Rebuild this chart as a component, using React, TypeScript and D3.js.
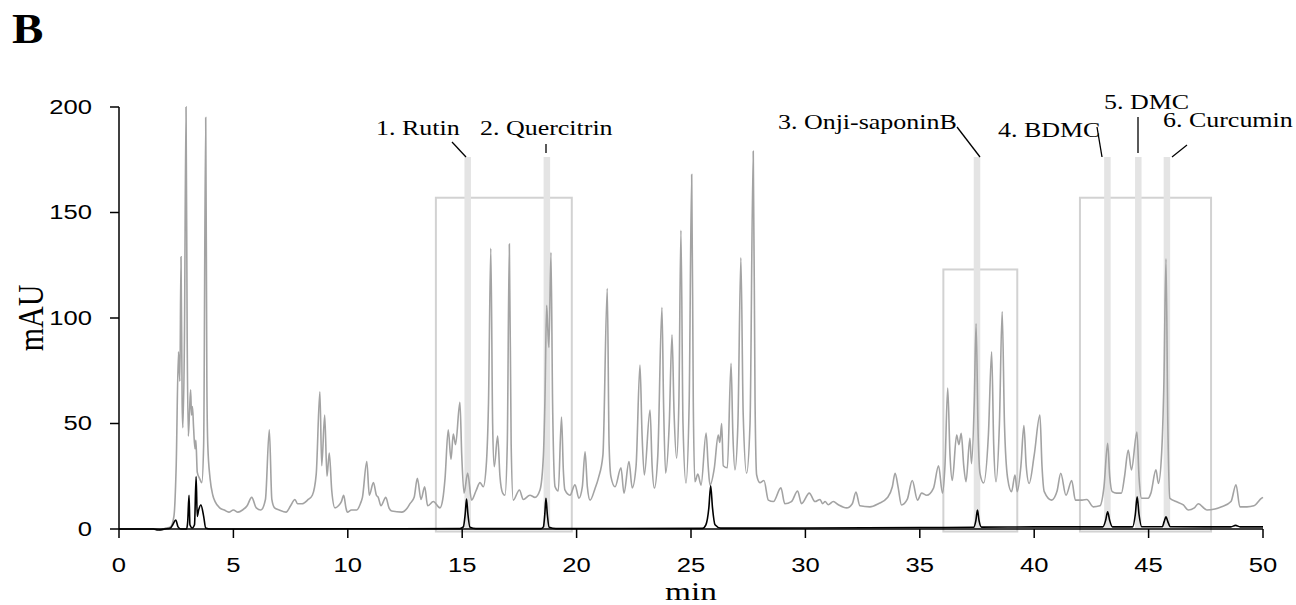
import React from "react";
import * as d3 from "d3";

// gray trace: sample extract, [time (min), mAU]
const extractTrace: [number, number][] = [
  [0, 0], [1.7, 0], [1.85, -0.5], [2.0, 0.3], [2.25, 1], [2.4, 6], [2.5, 30], [2.6, 84], [2.66, 70], [2.71, 129],
  [2.76, 60], [2.79, 48], [2.86, 90], [2.93, 200], [2.98, 90], [3.03, 44], [3.08, 55], [3.13, 66], [3.17, 54],
  [3.21, 58], [3.26, 48], [3.32, 38], [3.36, 42], [3.42, 27], [3.52, 24], [3.62, 22], [3.7, 40], [3.79, 195],
  [3.84, 70], [3.88, 40], [3.98, 24], [4.1, 16], [4.2, 13], [4.4, 10], [4.6, 9], [4.8, 8], [5.0, 9], [5.2, 8],
  [5.4, 9], [5.6, 11], [5.8, 15], [6.0, 10], [6.2, 9], [6.4, 14], [6.57, 47], [6.68, 14], [6.8, 10], [7.0, 9],
  [7.3, 8], [7.5, 11], [7.69, 14], [7.8, 12], [8.0, 12], [8.27, 14], [8.45, 16], [8.62, 26], [8.78, 65],
  [8.86, 30], [8.99, 54], [9.09, 25], [9.19, 36], [9.3, 18], [9.44, 10], [9.59, 11], [9.72, 13], [9.82, 16],
  [9.92, 10], [9.98, 8], [10.16, 9], [10.39, 9], [10.55, 12], [10.64, 15], [10.83, 32], [10.94, 16],
  [11.12, 22], [11.25, 16], [11.33, 15], [11.45, 11], [11.66, 15], [11.8, 10], [11.92, 8.5], [12.36, 8],
  [12.6, 10], [12.72, 12], [12.9, 15], [13.04, 24], [13.2, 14], [13.36, 20], [13.49, 11], [13.74, 13],
  [14.03, 10], [14.15, 14], [14.25, 24], [14.39, 47], [14.51, 33], [14.61, 45], [14.71, 40], [14.9, 60],
  [14.98, 35], [15.08, 17], [15.24, 26.5], [15.41, 13.7], [15.6, 18], [15.78, 22], [15.92, 20], [16.05, 30],
  [16.15, 60], [16.25, 133], [16.33, 50], [16.4, 29.5], [16.55, 44], [16.65, 25], [16.77, 17], [16.87, 16],
  [16.97, 40], [17.06, 135], [17.14, 40], [17.23, 13.7], [17.5, 18.5], [17.67, 14], [17.96, 16], [18.18, 15],
  [18.4, 18.5], [18.55, 35], [18.62, 63], [18.69, 106], [18.74, 95], [18.79, 86], [18.88, 131], [18.95, 60],
  [19.06, 20], [19.2, 18], [19.34, 53], [19.42, 28], [19.49, 18.5], [19.71, 16], [19.93, 21], [20.1, 14.6],
  [20.25, 20], [20.37, 36.6], [20.47, 20], [20.59, 13.7], [20.8, 19], [20.95, 24], [21.15, 35], [21.34, 114],
  [21.42, 40], [21.5, 24.8], [21.68, 20], [21.94, 29], [22.07, 17], [22.29, 32], [22.43, 19.5], [22.6, 30],
  [22.77, 77.7], [22.86, 45], [22.96, 25.6], [23.21, 56.4], [23.3, 30], [23.4, 19.4], [23.55, 35],
  [23.73, 105], [23.8, 60], [23.89, 26.5], [24.05, 50], [24.17, 92], [24.26, 55], [24.37, 33.6], [24.47, 60],
  [24.56, 141.6], [24.65, 50], [24.78, 21.8], [24.92, 60], [25.03, 168], [25.1, 60], [25.17, 22.4], [25.3, 26],
  [25.44, 20.8], [25.66, 45.5], [25.75, 30], [25.83, 20.8], [26.02, 29], [26.19, 44.5], [26.26, 41],
  [26.34, 50], [26.41, 30], [26.59, 29], [26.75, 78.5], [26.83, 45], [26.92, 28], [27.05, 50], [27.18, 128.5],
  [27.28, 55], [27.43, 26.4], [27.58, 50], [27.72, 179], [27.8, 60], [27.87, 25.6], [28.01, 22], [28.19, 23],
  [28.38, 13.7], [28.6, 13], [28.93, 19.5], [29.1, 12], [29.39, 13], [29.66, 18], [29.83, 12], [30.17, 17],
  [30.42, 13], [30.64, 14], [30.75, 12], [30.86, 13], [31.0, 11.5], [31.22, 13], [31.44, 11.5], [31.8, 10],
  [32.05, 12], [32.21, 17.5], [32.38, 11], [32.82, 10.5], [33.19, 12], [33.6, 15], [33.8, 20], [33.92, 26.4],
  [34.05, 20], [34.2, 11.4], [34.45, 14], [34.67, 23], [34.9, 13.7], [35.08, 17], [35.3, 16], [35.6, 19.4],
  [35.82, 30], [35.99, 17], [36.1, 30], [36.22, 66.8], [36.32, 35], [36.42, 23], [36.61, 44.5], [36.71, 40],
  [36.81, 45.3], [36.92, 30], [37.02, 22.4], [37.19, 43], [37.26, 31], [37.38, 60], [37.46, 97.4], [37.55, 45],
  [37.63, 26.4], [37.79, 21.8], [38.0, 45], [38.14, 84], [38.23, 40], [38.33, 22.4], [38.48, 50], [38.6, 103],
  [38.7, 50], [38.84, 24], [39.01, 17.7], [39.16, 25.6], [39.26, 17.7], [39.42, 30], [39.55, 49], [39.65, 30],
  [39.78, 21.6], [40.0, 35], [40.25, 54], [40.34, 30], [40.44, 17.7], [40.76, 13.7], [41.0, 18], [41.16, 26.4],
  [41.39, 16], [41.64, 23], [41.8, 13.7], [42.09, 13.7], [42.3, 14], [42.58, 10.5], [42.87, 11], [43.05, 20],
  [43.21, 40.6], [43.3, 25], [43.41, 17.7], [43.6, 17], [43.81, 17], [43.95, 25], [44.11, 37.4], [44.25, 28],
  [44.49, 46], [44.58, 25], [44.69, 14.6], [44.98, 14.6], [45.1, 17], [45.32, 28], [45.43, 21.6], [45.57, 36],
  [45.67, 70], [45.76, 128], [45.84, 50], [45.93, 14.6], [46.2, 13], [46.52, 11.4], [46.73, 9], [47.0, 10],
  [47.17, 12], [47.55, 9], [47.9, 9.5], [48.19, 10.5], [48.6, 13], [48.82, 21], [48.99, 10.5], [49.3, 10.5],
  [49.6, 11], [49.94, 14.6], [50, 15],
];

// black trace: standard mixture
const standardTrace: [number, number][] = [
  [0, 0], [1.5, 0], [1.7, -0.5], [2.0, 0], [2.25, 0.5], [2.35, 2], [2.48, 4.3], [2.58, 1], [2.7, 0], [2.95, 0],
  [3.0, 3], [3.06, 16], [3.1, 2], [3.2, 0.5], [3.3, 2], [3.37, 24.8], [3.42, 6], [3.48, 9], [3.58, 11.4],
  [3.7, 6], [3.79, 0.5], [4.0, 0], [10, 0.1], [14.9, 0.2], [15.05, 1], [15.13, 7], [15.19, 14.2], [15.25, 7],
  [15.34, 0.8], [15.6, 0.2], [18.45, 0.2], [18.55, 1], [18.61, 7], [18.66, 14.5], [18.72, 7], [18.8, 0.8],
  [19.1, 0.2], [25.5, 0.3], [25.65, 2], [25.78, 10], [25.86, 20.5], [25.94, 10], [26.05, 2], [26.3, 0.4],
  [30, 0.5], [35, 0.7], [37.35, 0.8], [37.45, 4], [37.52, 9], [37.59, 4], [37.7, 0.9], [40, 1], [43.0, 1],
  [43.12, 4], [43.21, 8.2], [43.3, 4], [43.42, 1], [44.3, 1], [44.42, 7], [44.5, 15.3], [44.58, 7],
  [44.7, 1.1], [45.6, 1.1], [45.68, 3.5], [45.76, 5.8], [45.84, 3.5], [45.95, 1.1], [48.6, 1], [48.8, 1.7],
  [49, 1], [50, 1],
];

const compounds = ["1. Rutin", "2. Quercitrin", "3. Onji-saponinB", "4. BDMC", "5. DMC", "6. Curcumin"];
const retentionTimes = [15.24, 18.7, 37.5, 43.2, 44.55, 45.8];

// highlighted regions: [start min, end min, top mAU]
const regions: [number, number, number][] = [
  [13.85, 19.79, 157],
  [36.03, 39.26, 123],
  [42.0, 47.73, 157],
];

const xTicks = [0, 5, 10, 15, 20, 25, 30, 35, 40, 45, 50];
const yTicks = [0, 50, 100, 150, 200];

// label placement (px): text start, baseline, leader line
const labelLayout = [
  { x: 376, y: 135, line: [452, 142, 466, 157] },
  { x: 480, y: 135, line: [546, 144, 546, 153] },
  { x: 778, y: 129, line: [957, 127, 980, 157] },
  { x: 998, y: 137, line: [1097, 127, 1102, 157] },
  { x: 1104, y: 109, line: [1138, 117, 1138, 153] },
  { x: 1163, y: 127, line: [1187, 145, 1172, 157] },
];

const SERIF = "'Liberation Serif', 'Times New Roman', serif";
const SANS = "'Liberation Sans', Arial, sans-serif";
const SX = 1.18;

export default function App() {
  const x = d3.scaleLinear().domain([0, 50]).range([119, 1263]);
  const y = d3.scaleLinear().domain([0, 200]).range([529, 107]);

  const line = d3
    .line<[number, number]>()
    .x((d) => x(d[0]))
    .y((d) => y(d[1]))
    .curve(d3.curveMonotoneX);

  const bandW = 6.5;

  return (
    <div style={{ position: "absolute", left: 0, top: 0 }}>
      <svg width={1296} height={605} style={{ display: "block", background: "#fff" }}>
        <text transform={`translate(12,43) scale(1.12,1)`} fontFamily={SERIF} fontWeight="bold" fontSize={42}>
          B
        </text>

        {/* regions of interest */}
        {regions.map(([a, b, top], i) => (
          <rect
            key={"r" + i}
            x={x(a)}
            y={y(top)}
            width={x(b) - x(a)}
            height={y(-1.2) - y(top)}
            fill="none"
            stroke="#d2d2d2"
            strokeWidth={2}
          />
        ))}

        {/* compound bands */}
        {retentionTimes.map((t, i) => (
          <rect
            key={"b" + i}
            x={x(t) - bandW / 2}
            y={157}
            width={bandW}
            height={y(0) - 157}
            fill="#e4e4e4"
          />
        ))}

        <path d={line(extractTrace) || ""} fill="none" stroke="#a3a3a3" strokeWidth={1.6} />
        <path d={line(standardTrace) || ""} fill="none" stroke="#000" strokeWidth={1.6} />

        {/* axes */}
        <g stroke="#000" strokeWidth={1.5}>
          <line x1={x(0)} x2={x(0)} y1={y(200)} y2={y(0)} />
          <line x1={x(0)} x2={x(50)} y1={y(0)} y2={y(0)} />
          {yTicks.map((v) => (
            <line key={"yt" + v} x1={x(0) - 9} x2={x(0)} y1={y(v)} y2={y(v)} />
          ))}
          {xTicks.map((v) => (
            <line key={"xt" + v} x1={x(v)} x2={x(v)} y1={y(0)} y2={y(0) + 9} />
          ))}
        </g>
        {yTicks.map((v) => (
          <text
            key={"yl" + v}
            transform={`translate(${x(0) - 27},${y(v) + 6.5}) scale(1.22,1)`}
            textAnchor="end"
            fontFamily={SANS}
            fontSize={21}
          >
            {v}
          </text>
        ))}
        {xTicks.map((v) => (
          <text
            key={"xl" + v}
            transform={`translate(${x(v)},${y(0) + 43}) scale(1.22,1)`}
            textAnchor="middle"
            fontFamily={SANS}
            fontSize={21}
          >
            {v}
          </text>
        ))}

        <text
          transform={`translate(43,318) scale(${SX},1) rotate(-90)`}
          textAnchor="middle"
          fontFamily={SERIF}
          fontSize={30}
        >
          mAU
        </text>
        <text
          transform={`translate(${(x(0) + x(50)) / 2},600) scale(1.28,1)`}
          textAnchor="middle"
          fontFamily={SERIF}
          fontSize={26}
        >
          min
        </text>

        {/* compound labels */}
        {compounds.map((name, i) => {
          const l = labelLayout[i];
          return (
            <g key={"c" + i}>
              <text transform={`translate(${l.x},${l.y}) scale(${SX},1)`} fontFamily={SERIF} fontSize={22}>
                {name}
              </text>
              <line x1={l.line[0]} y1={l.line[1]} x2={l.line[2]} y2={l.line[3]} stroke="#000" strokeWidth={1.3} />
            </g>
          );
        })}
      </svg>
    </div>
  );
}
